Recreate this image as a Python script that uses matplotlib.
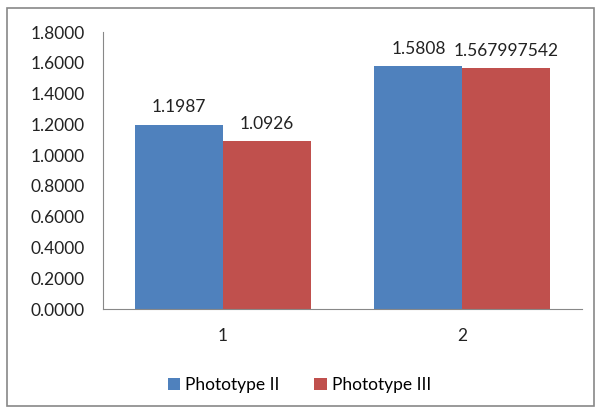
import matplotlib.pyplot as plt
from matplotlib.patches import Rectangle
from matplotlib.ticker import FormatStrFormatter
import numpy as np

plt.rcParams['font.family'] = ['Lato', 'DejaVu Sans']

categories = ["1", "2"]
series_names = ["Phototype II", "Phototype III"]
phototype_2 = [1.1987, 1.5808]
phototype_3 = [1.0926, 1.567997542]
labels_2 = ["1.1987", "1.5808"]
labels_3 = ["1.0926", "1.567997542"]

blue = "#4F81BD"
red = "#C0504D"

fig = plt.figure(figsize=(5.99, 4.12), dpi=100)
ax = fig.add_axes([0.172, 0.25, 0.80, 0.672])

x = np.arange(len(categories))
w = 0.367
b1 = ax.bar(x - w / 2, phototype_2, w, color=blue, label=series_names[0])
b2 = ax.bar(x + w / 2, phototype_3, w, color=red, label=series_names[1])

for bars, labs in ((b1, labels_2), (b2, labels_3)):
    for bar, lab in zip(bars, labs):
        ax.text(bar.get_x() + bar.get_width() / 2, bar.get_height() + 0.06, lab,
                ha='center', va='bottom', fontsize=12.5, color='#222222')

ax.set_ylim(0, 1.8)
ax.set_yticks(np.arange(0, 1.81, 0.2))
ax.yaxis.set_major_formatter(FormatStrFormatter('%.4f'))
ax.set_xlim(-0.5, 1.5)
ax.set_xticks(x)
ax.set_xticklabels(categories)
ax.tick_params(axis='both', length=0, labelsize=12.5, colors='#222222')
ax.tick_params(axis='x', pad=14)
ax.tick_params(axis='y', pad=13)

for s in ['top', 'right']:
    ax.spines[s].set_visible(False)
ax.spines['left'].set_color('#888888')
ax.spines['bottom'].set_color('#888888')

fig.legend(loc='center', bbox_to_anchor=(0.5, 0.065), ncol=2, frameon=False,
           fontsize=12.5, handlelength=0.7, handleheight=0.7, handletextpad=0.3,
           columnspacing=2.0)

fig.patches.append(Rectangle((0.012, 0.015), 0.98, 0.965, transform=fig.transFigure,
                             fill=False, edgecolor='#888888', linewidth=1.2))

fig.savefig("out.png", dpi=100)
